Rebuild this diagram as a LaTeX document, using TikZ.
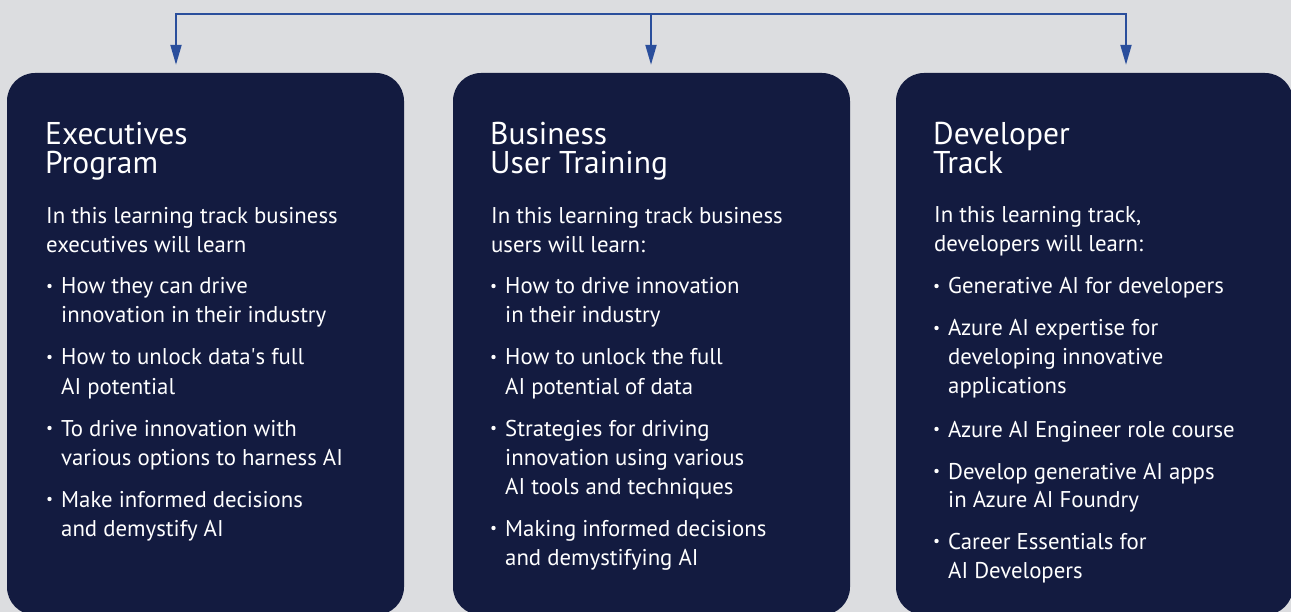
\documentclass[tikz,border=0pt]{standalone}
\usepackage{fontspec}
\setmainfont{PT Sans}
\usetikzlibrary{arrows.meta}
\definecolor{bg}{HTML}{DCDDE0}
\definecolor{navy}{HTML}{131B40}
\definecolor{linkblue}{HTML}{2A4E9C}
\newcommand\tl[4]{\node[txt] (#1) at (#2,#3) {#4};}
\newcommand\ttl[4]{\node[ttxt] (#1) at (#2,#3) {#4};}
\newcommand\bl[4]{\fill[white] (#2-11.5,#3-8) circle (2.2);\node[txt] (#1) at (#2,#3) {#4};}
\begin{document}
\begin{tikzpicture}[x=1pt,y=-1pt,
  box/.style={fill=navy,draw=none,rounded corners=28pt,minimum width=397pt,minimum height=542pt,inner sep=0pt},
  txt/.style={anchor=base west,inner sep=0pt,text=white,font=\fontsize{22.8}{28}\selectfont},
  ttxt/.style={anchor=base west,inner sep=0pt,text=white,font=\fontsize{31.5}{30}\selectfont},
  conn/.style={draw=linkblue,line width=2pt,arrows={-{Triangle[width=11pt,length=20pt]}}},
  conn2/.style={draw=linkblue,line width=2pt,arrows={{Triangle[width=11pt,length=20pt]}-{Triangle[width=11pt,length=20pt]}}}]
\clip (0,0) rectangle (1291,612);
\fill[bg] (0,0) rectangle (1291,612);
\node[box] (b1) at (205.5,344) {};
\node[box] (b2) at (651.5,344) {};
\node[box] (b3) at (1094.5,344) {};
\coordinate (j1) at (176,14);
\coordinate (j2) at (651,14);
\coordinate (j3) at (1126,14);
\path (j1 |- b1.north) ++(0,-8) coordinate (t1);
\path (j2 |- b2.north) ++(0,-8) coordinate (t2);
\path (j3 |- b3.north) ++(0,-8) coordinate (t3);
\draw[conn2] (t1) -- (j1) -- (j3) -- (t3);
\draw[conn] (j2) -- (t2);
% column 1
\ttl{a1}{45}{145}{Executives}
\ttl{a2}{45}{174}{Program}
\tl{a3}{46}{224}{In this learning track business}
\tl{a4}{46}{253}{executives will learn}
\bl{a5}{61}{294}{How they can drive}
\tl{a6}{61}{323}{innovation in their industry}
\bl{a7}{61}{365}{How to unlock data\textquotesingle s full}
\tl{a8}{61}{394}{AI potential}
\bl{a9}{61}{436}{To drive innovation with}
\tl{a10}{61}{465}{various options to harness AI}
\bl{a11}{61}{507}{Make informed decisions}
\tl{a12}{61}{536}{and demystify AI}
% column 2
\ttl{c1}{490}{145}{Business}
\ttl{c2}{490}{174}{User Training}
\tl{c3}{491}{224}{In this learning track business}
\tl{c4}{491}{253}{users will learn:}
\bl{c5}{505}{294}{How to drive innovation}
\tl{c6}{505}{323}{in their industry}
\bl{c7}{505}{365}{How to unlock the full}
\tl{c8}{505}{394}{AI potential of data}
\bl{c9}{505}{436}{Strategies for driving}
\tl{c10}{505}{465}{innovation using various}
\tl{c11}{505}{494}{AI tools and techniques}
\bl{c12}{505}{536}{Making informed decisions}
\tl{c13}{505}{565}{and demystifying AI}
% column 3
\ttl{d1}{933}{145}{Developer}
\ttl{d2}{933}{174}{Track}
\tl{d3}{934}{223}{In this learning track,}
\tl{d4}{934}{252}{developers will learn:}
\bl{d5}{948}{294}{Generative AI for developers}
\bl{d6}{948}{336}{Azure AI expertise for}
\tl{d7}{948}{365}{developing innovative}
\tl{d8}{948}{393}{applications}
\bl{d9}{948}{437}{Azure AI Engineer role course}
\bl{d10}{948}{479}{Develop generative AI apps}
\tl{d11}{948}{507}{in Azure AI Foundry}
\bl{d12}{948}{549}{Career Essentials for}
\tl{d13}{948}{578}{AI Developers}
\end{tikzpicture}
\end{document}
